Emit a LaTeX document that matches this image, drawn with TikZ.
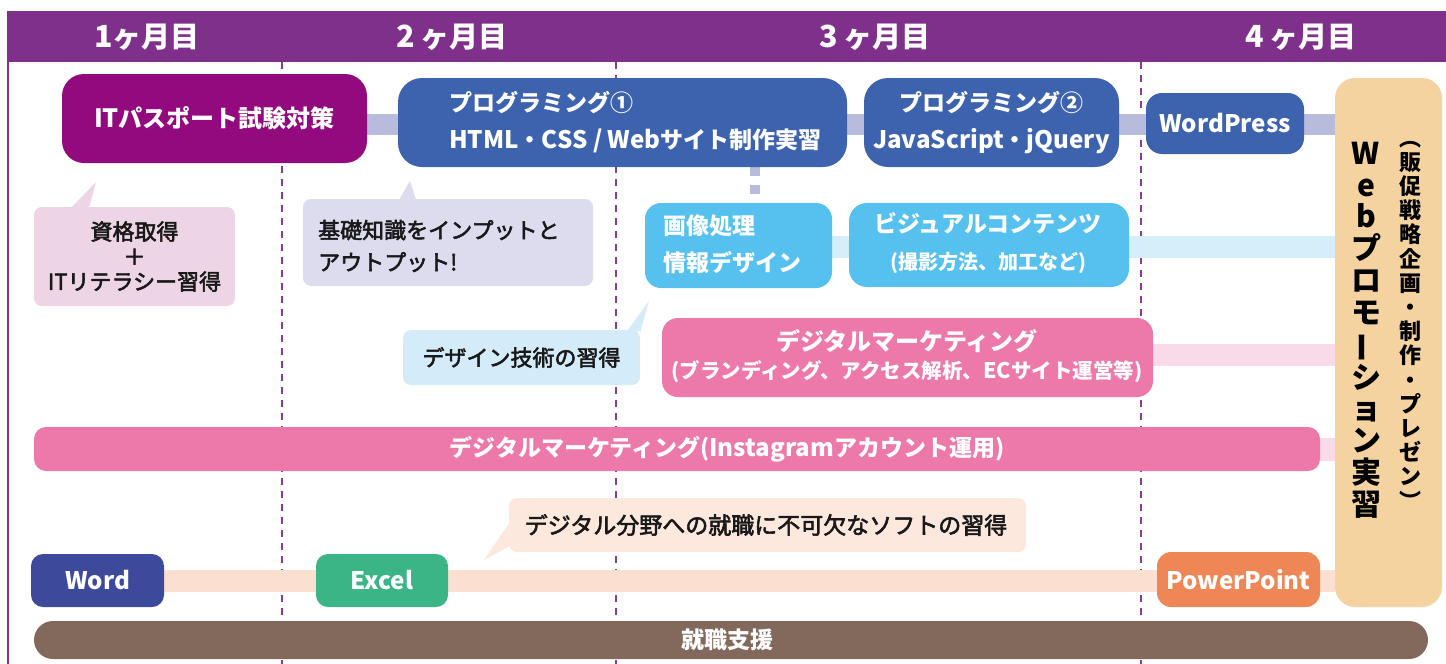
\documentclass[tikz,border=0pt]{standalone}
\usepackage{fontspec}
\usepackage{graphicx}
\setmainfont{Noto Sans CJK JP}
\newfontfamily\cnd[Scale=1.05]{Noto Sans CJK JP}
\newfontfamily\calf[FakeBold=2.5]{Noto Sans CJK JP}
\newcommand\latn[1]{{\cnd #1}}
\usetikzlibrary{fit}
\pgfdeclarelayer{bg}
\pgfsetlayers{bg,main}
\definecolor{hdr}{HTML}{7E308B}
\definecolor{dashc}{HTML}{8B3A96}
\definecolor{itc}{HTML}{930A7F}
\definecolor{blu}{HTML}{3E63AE}
\definecolor{lavband}{HTML}{B7BCDD}
\definecolor{sky}{HTML}{56C1EF}
\definecolor{skyband}{HTML}{D6EEFA}
\definecolor{pnk}{HTML}{EC79AA}
\definecolor{pnkband}{HTML}{F8DAE8}
\definecolor{wordc}{HTML}{3D4A9B}
\definecolor{excelc}{HTML}{3BB585}
\definecolor{pptc}{HTML}{EF8656}
\definecolor{orband}{HTML}{FBE0D2}
\definecolor{brn}{HTML}{83685C}
\definecolor{peach}{HTML}{F4D3A0}
\definecolor{ca}{HTML}{EDD5E5}
\definecolor{cb}{HTML}{DDDCEE}
\definecolor{cc}{HTML}{D4ECF9}
\definecolor{cd}{HTML}{FDE8DD}
\tikzset{
  shp/.style={inner sep=0pt, outer sep=0pt, draw=none, rounded corners=#1},
  wt/.style={inner sep=0pt, text=white, font=\bfseries\fontsize{23}{28}\selectfont},
  hd/.style={inner sep=0pt, text=white, font=\bfseries\fontsize{29}{30}\selectfont},
  bk/.style={inner sep=0pt, text=black!90, font=\calf\fontsize{22}{26}\selectfont},
  vline/.style={draw=dashc, line width=1.6pt, dash pattern=on 7pt off 6pt},
}
\begin{document}
\begin{tikzpicture}[x=1pt,y=-1pt]
\useasboundingbox (0,0) rectangle (1446,664);
% header
\fill[hdr] (8,11) rectangle (1446,62);
\draw[hdr, line width=2pt] (8,11) -- (8,664);
\node[hd] (m1) at (147,37) {\latn{1}ヶ月目};
\node[hd] (m2) at (452,37) {\latn{2}\hspace{6pt}ヶ月目};
\node[hd] (m3) at (875,37) {\latn{3}\hspace{6pt}ヶ月目};
\node[hd] (m4) at (1301,37) {\latn{4}\hspace{6pt}ヶ月目};
% row coordinates
\coordinate (y1) at (0,124.5);
\coordinate (y2) at (0,247);
\coordinate (y3) at (0,355);
\coordinate (y4) at (0,449.5);
\coordinate (y5) at (0,581);
\coordinate (cx) at (755,0);
% top row
\node[shp=22pt, fill=itc, fit={(62,74)(367,163)}] (it) {};
\node[wt, font=\bfseries\fontsize{24}{28}\selectfont] (itt) at (it.center) {\latn{IT}パスポート試験対策};
\node[shp=24pt, fill=blu, fit={(398,78)(847,167)}] (p1) {};
\node[wt, anchor=west, align=left, font=\bfseries\fontsize{23}{37}\selectfont] (p1t) at (449,122) {プログラミング①\\\latn{HTML}・\latn{CSS / Web}サイト制作実習};
\node[shp=24pt, fill=blu, fit={(864,78)(1119,167)}] (p2) {};
\node[wt, align=center, font=\bfseries\fontsize{23}{37}\selectfont] (p2t) at (p2.center) {プログラミング②\\\latn{JavaScript}・\latn{jQuery}};
\node[shp=16pt, fill=blu, fit={(1146,93)(1304,154)}] (wp) {};
\node[wt] (wpt) at (wp.center) {\latn{WordPress}};
\node[shp=20pt, fill=peach, fit={(1335,78)(1442,607)}] (promo) {};
\node[inner sep=0pt, align=center, text=black, font=\bfseries\fontsize{30}{31.8}\selectfont] (vt1) at (1366,330)
  {W\\e\\b\\プ\\ロ\\モ\\\rotatebox[origin=c]{90}{ー}\\シ\\ョ\\ン\\実\\習};
\node[inner sep=0pt, align=center, text=black, font=\bfseries\fontsize{22}{24.2}\selectfont] (vt2) at (1410,325)
  {︵\\販\\促\\戦\\略\\企\\画\\・\\制\\作\\・\\プ\\レ\\ゼ\\ン\\︶};
% callouts row 2
\node[shp=8pt, fill=ca, fit={(34,207)(235,306)}] (cq) {};
\node[bk, align=center, font=\calf\fontsize{22}{25}\selectfont] (cqt) at (cq.center) {資格取得\\＋\\ITリテラシー習得};
\fill[ca] (71,208) -- (96,182) -- (89,208) -- cycle;
\node[shp=8pt, fill=cb, fit={(303,199)(593,286)}] (kb) {};
\node[bk, anchor=west, align=left, font=\calf\fontsize{22}{32}\selectfont] (kbt) at (318,246) {基礎知識をインプットと\\アウトプット!};
\fill[cb] (399,200) -- (410,181) -- (416,200) -- cycle;
\node[shp=16pt, fill=sky, fit={(645,203)(832,288)}] (gz) {};
\node[wt, anchor=west, align=left, font=\bfseries\fontsize{23}{37}\selectfont] (gzt) at (663,244) {画像処理\\情報デザイン};
\node[shp=18pt, fill=sky, fit={(849,203)(1129,287)}] (vc) {};
\node[wt, align=center, font=\bfseries\fontsize{23}{37}\selectfont] (vct) at (988,243.5) {ビジュアルコンテンツ\\{\fontsize{20}{37}\selectfont(撮影方法、加工など)}};
\node[shp=8pt, fill=cc, fit={(403,330)(640,385)}] (ds) {};
\node[bk] (dst) at (ds.center) {デザイン技術の習得};
\fill[cc] (627,331) -- (649,301) -- (640,333) -- (640,331) -- cycle;
\node[shp=16pt, fill=pnk, fit={(662,318)(1153,397)}] (mk) {};
\node[wt, align=center, font=\bfseries\fontsize{24}{28}\selectfont] (mkt) at (907,356) {デジタルマーケティング\\{\fontsize{20.5}{28}\selectfont(ブランディング、アクセス解析、\latn{EC}サイト運営等)}};
% instagram bar
\node[shp=12pt, fill=pnk, fit={(34,427)(1320,471)}] (ig) {};
\node[wt] (igt) at (727,449) {デジタルマーケティング(\latn{Instagram}アカウント運用)};
% software row
\node[shp=8pt, fill=cd, fit={(509,498)(1026,552)}] (sw) {};
\node[bk, font=\calf\fontsize{23}{26}\selectfont] (swt) at (766,525) {デジタル分野への就職に不可欠なソフトの習得};
\fill[cd] (510,522) -- (484,560) -- (510,546) -- cycle;
\node[shp=12pt, fill=wordc, fit={(31,554)(164,607)}] (wd) {};
\node[wt] (wdt) at (wd.center) {\latn{Word}};
\node[shp=12pt, fill=excelc, fit={(316,554)(448,607)}] (ex) {};
\node[wt] (ext) at (ex.center) {\latn{Excel}};
\node[shp=14pt, fill=pptc, fit={(1157,552)(1320,607)}] (pp) {};
\node[wt] (ppt) at (pp.center) {\latn{PowerPoint}};
\node[shp=19pt, fill=brn, fit={(34,621)(1428,659)}] (sk) {};
\node[wt] (skt) at (727,640) {就職支援};
% background: dashed lines and bands
\begin{pgfonlayer}{bg}
\draw[vline] (282,62) -- (282,664);
\draw[vline] (616,62) -- (616,664);
\draw[vline] (1141,62) -- (1141,664);
\draw[lavband, line width=21pt] (it.east |- y1) -- (promo.west |- y1);
\draw[skyband, line width=22pt] (gz.east |- y2) -- (promo.west |- y2);
\draw[pnkband, line width=22pt] (mk.east |- y3) -- (promo.west |- y3);
\draw[pnkband, line width=23pt] (ig.east |- y4) -- (promo.west |- y4);
\draw[orband, line width=22pt] (wd.east |- y5) -- (promo.west |- y5);
\draw[lavband, line width=10pt, dash pattern=on 9pt off 9pt] (p1.south -| cx) -- (gz.north -| cx);
\end{pgfonlayer}
\end{tikzpicture}
\end{document}
